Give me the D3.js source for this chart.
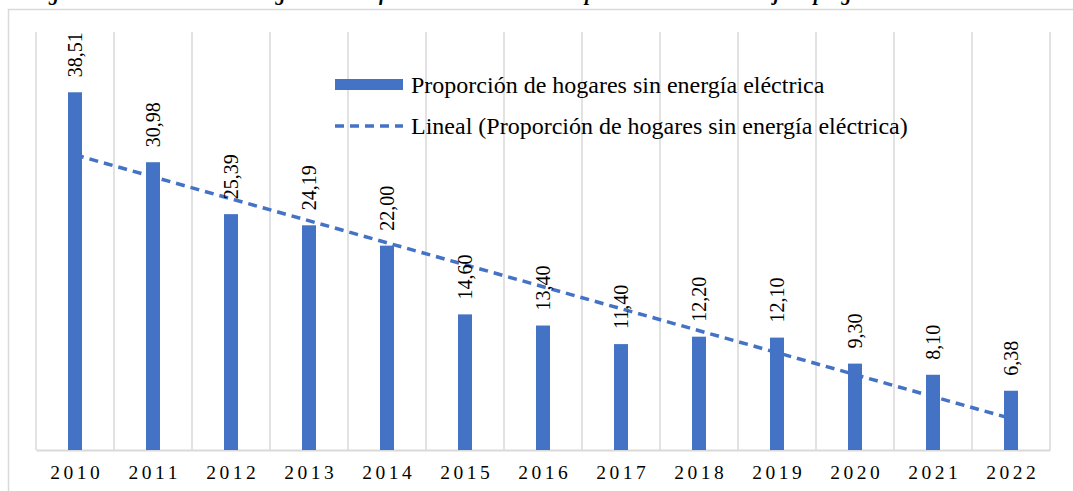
<!DOCTYPE html>
<html>
<head>
<meta charset="utf-8">
<script src="https://cdn.jsdelivr.net/npm/d3@7"></script>
<style>
  body { margin: 0; background: #fff; }
  svg { display: block; font-family: "Liberation Serif", "Times New Roman", serif; }
</style>
</head>
<body>
<div id="graph"></div>
<script>
const years = ["2010", "2011", "2012", "2013", "2014", "2015", "2016", "2017", "2018", "2019", "2020", "2021", "2022"]
const values = [38.51, 30.98, 25.39, 24.19, 22.00, 14.60, 13.40, 11.40, 12.20, 12.10, 9.30, 8.10, 6.38]
const seriesName = "Proporción de hogares sin energía eléctrica"
const trendName = "Lineal (Proporción de hogares sin energía eléctrica)"
const caption = "Figura 4. Evolución de los hogares con déficit de electricidad en el período 2010 - 2022 bajo el programa"

const width = 1073
const height = 491
const marginLeft = 36
const marginRight = 23
const plotTop = 32
const plotBottom = 450
const blue = "#4472c4"
const grid = "#d9d9d9"

const x = d3.scaleBand()
            .domain(years)
            .range([marginLeft, width - marginRight])
            .padding(0)

const y = d3.scaleLinear()
            .domain([0, 45])
            .range([plotBottom, plotTop])

const fmt = v => d3.format(".2f")(v).replace(".", ",")

const svg = d3.create("svg")
              .attr("width", width)
              .attr("height", height)

// caption above the chart, mostly outside the picture
svg.append("text")
   .attr("x", 30)
   .attr("y", 0)
   .attr("font-size", 20)
   .attr("font-weight", "bold")
   .attr("font-style", "italic")
   .text(caption)

// chart border
svg.append("rect")
   .attr("x", 8.5)
   .attr("y", 9.5)
   .attr("width", width + 20)
   .attr("height", height + 20)
   .attr("fill", "none")
   .attr("stroke", grid)
   .attr("stroke-width", 1.5)

// vertical gridlines at category edges
const edges = years.map(d => x(d)).concat([x.range()[1]])
svg.append("g")
   .selectAll("line")
   .data(edges)
   .join("line")
   .attr("x1", d => d)
   .attr("x2", d => d)
   .attr("y1", plotTop)
   .attr("y2", plotBottom)
   .attr("stroke", grid)
   .attr("stroke-width", 1.5)

// x axis
const letterSp = 3.5
const xAxis = d3.axisBottom(x).tickSize(0).tickPadding(15)
const gx = svg.append("g")
   .attr("transform", `translate(0, ${plotBottom})`)
   .call(xAxis)
gx.select(".domain").attr("stroke", grid).attr("stroke-width", 2)
gx.selectAll("text")
  .attr("font-family", "Liberation Serif")
  .attr("font-size", 19.5)
  .attr("letter-spacing", letterSp)
  .attr("dx", letterSp / 2)
  .attr("fill", "#000")

// bars
const barWidth = 14
svg.append("g")
   .selectAll("rect")
   .data(values)
   .join("rect")
   .attr("x", (d, i) => x(years[i]) + x.bandwidth() / 2 - barWidth / 2)
   .attr("y", d => y(d))
   .attr("width", barWidth)
   .attr("height", d => y(0) - y(d))
   .attr("fill", blue)

// linear trendline (least squares, like the spreadsheet)
const idx = values.map((d, i) => i)
const mx = d3.mean(idx)
const my = d3.mean(values)
const slope = d3.sum(idx, i => (i - mx) * (values[i] - my)) / d3.sum(idx, i => (i - mx) ** 2)
const icpt = my - slope * mx
const trend = years.map((d, i) => [d, icpt + slope * i])

svg.append("path")
   .datum([trend[0], trend[trend.length - 1]])
   .attr("d", d3.line()
                .x(d => x(d[0]) + x.bandwidth() / 2)
                .y(d => y(d[1])))
   .attr("fill", "none")
   .attr("stroke", blue)
   .attr("stroke-width", 3.5)
   .attr("stroke-dasharray", "9,6")

// data labels, rotated
svg.append("g")
   .selectAll("text")
   .data(values)
   .join("text")
   .attr("transform", (d, i) => `translate(${x(years[i]) + x.bandwidth() / 2 + 7}, ${y(d) - 15}) rotate(-90)`)
   .attr("font-size", 20)
   .attr("fill", "#000")
   .text(d => fmt(d))

// legend
const legend = svg.append("g")
                  .attr("transform", "translate(335, 0)")

legend.append("rect")
      .attr("x", 0)
      .attr("y", 79)
      .attr("width", 68)
      .attr("height", 11)
      .attr("fill", blue)

legend.append("text")
      .attr("x", 76)
      .attr("y", 93)
      .attr("font-size", 24)
      .attr("fill", "#000")
      .text(seriesName)

legend.append("line")
      .attr("x1", 0)
      .attr("x2", 68)
      .attr("y1", 126)
      .attr("y2", 126)
      .attr("stroke", blue)
      .attr("stroke-width", 3.5)
      .attr("stroke-dasharray", "9,6")

legend.append("text")
      .attr("x", 76)
      .attr("y", 134)
      .attr("font-size", 24)
      .attr("fill", "#000")
      .text(trendName)

graph.append(svg.node())
</script>
</body>
</html>
